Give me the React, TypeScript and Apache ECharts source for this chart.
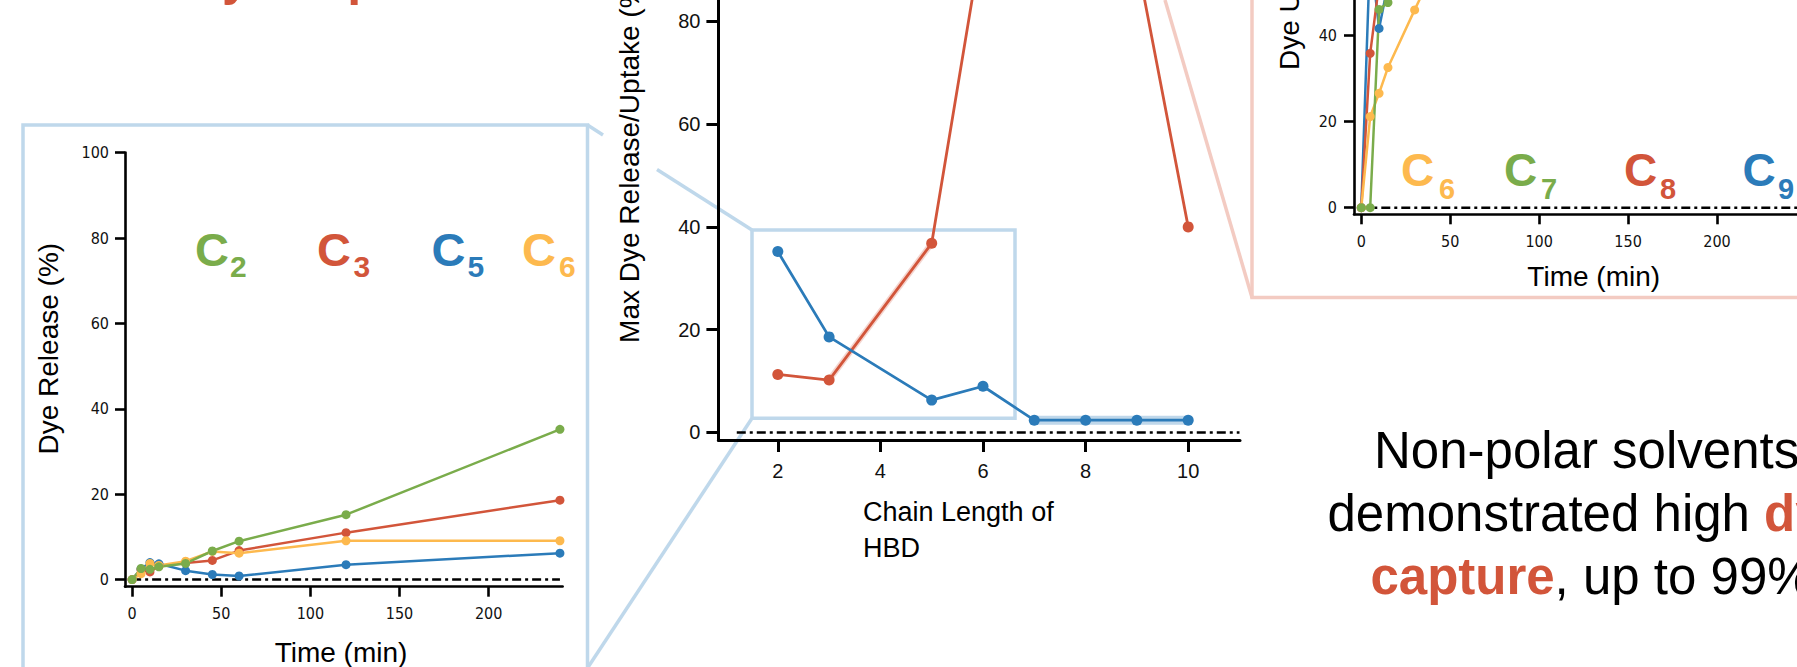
import React, { useEffect, useRef } from "react";
import * as echarts from "echarts";

// ---------- data ----------
const leftTimes = [0, 5, 10, 15, 30, 45, 60, 120, 240];
const releaseC2 = [0, 2.6, 2.4, 3.0, 3.8, 6.7, 9.0, 15.2, 35.2];
const releaseC3 = [0, 2.3, 1.8, 3.2, 3.9, 4.5, 6.8, 11.0, 18.6];
const releaseC5 = [0, 2.5, 4.0, 3.7, 2.1, 1.2, 0.85, 3.5, 6.2];
const releaseC6 = [0, 1.4, 3.8, 3.3, 4.3, 6.6, 6.2, 9.1, 9.1];

const chainLengths = [2, 3, 5, 6, 7, 8, 9, 10];
const maxRelease = [35.2, 18.6, 6.3, 9.0, 2.4, 2.4, 2.4, 2.4];
const maxUptake = [11.3, 10.2, 36.8, 97, 99, 98, 92, 40];

const rightTimes = [0, 5, 10, 15, 30, 45, 60, 120, 240];
const uptakeC6 = [0, 21.2, 26.6, 32.6, 46.0, 59, 68, 80, 90];
const uptakeC7 = [0, 0, 46.1, 47.7, 60, 70, 80, 90, 95];
const uptakeC8 = [0, 35.9, 52, 75, 90, 95, 97, 98, 99];
const uptakeC9 = [0, 60, 41.7, 52, 70, 80, 85, 90, 95];

const timeTicks = [0, 50, 100, 150, 200];
const percentTicks = [0, 20, 40, 60, 80, 100];
const chainTicks = [2, 4, 6, 8, 10];
const zeroLeft = [0, 240];
const zeroMiddle = [1.2, 11];
const zeroRight = [0, 245];

// ---------- styles ----------
const GREEN = "#7aac4b";
const RED = "#d2553a";
const BLUE = "#2b7bb9";
const ORANGE = "#fdb94e";
const LIGHTBLUE = "#bfd8eb";
const PINK = "#f3cbc2";
const FONT = "'Liberation Sans', Arial, sans-serif";
const TICKFONT = "'DejaVu Sans Condensed', 'DejaVu Sans', sans-serif";

const zip = (xs: number[], ys: number[]) => xs.map((x, i) => [x, ys[i]]);

function makeAxis(
  gridIndex: number,
  min: number,
  max: number,
  ticks: number[],
  opts: { font: string; size: number; margin: number; width: number; tickLen: number }
) {
  const shown = ticks.filter((t) => t >= min && t <= max);
  return {
    type: "value",
    gridIndex,
    min,
    max,
    axisLine: { show: true, onZero: false, lineStyle: { color: "#000", width: opts.width } },
    axisTick: {
      show: true,
      length: opts.tickLen,
      customValues: shown,
      lineStyle: { color: "#000", width: opts.width },
    },
    axisLabel: {
      customValues: shown,
      color: "#111",
      fontSize: opts.size,
      fontFamily: opts.font,
      margin: opts.margin,
    },
    splitLine: { show: false },
  };
}

function lineSeries(
  name: string,
  xi: number,
  data: number[][],
  color: string,
  width: number,
  symbolSize: number
) {
  return {
    name,
    type: "line",
    xAxisIndex: xi,
    yAxisIndex: xi,
    data,
    color,
    symbol: "circle",
    symbolSize,
    showSymbol: true,
    clip: true,
    lineStyle: { color, width },
    itemStyle: { color },
    z: 3,
  };
}

function zeroSeries(xi: number, ext: number[]) {
  return {
    type: "line",
    xAxisIndex: xi,
    yAxisIndex: xi,
    data: ext.map((x) => [x, 0]),
    symbol: "none",
    lineStyle: { color: "#000", width: 2.5, type: [9, 4, 3, 4] },
    z: 2,
  };
}

function bandSeries(xi: number, data: number[][], color: string, width: number) {
  return {
    type: "line",
    xAxisIndex: xi,
    yAxisIndex: xi,
    data,
    symbol: "none",
    lineStyle: { color, width },
    z: 2,
  };
}

function cLabel(x: number, y: number, sub: string, subX: number, subY: number, color: string, big: number, small: number) {
  return [
    {
      type: "text",
      x,
      y,
      style: { text: "C", fill: color, fontSize: big, fontWeight: "bold", fontFamily: FONT, align: "left", verticalAlign: "middle" },
    },
    {
      type: "text",
      x: subX,
      y: subY,
      style: { text: sub, fill: color, fontSize: small, fontWeight: "bold", fontFamily: FONT, align: "left", verticalAlign: "middle" },
    },
  ];
}

function text(x: number, y: number, t: string, size: number, extra: any = {}, rotation = 0) {
  return {
    type: "text",
    x,
    y,
    rotation,
    style: {
      text: t,
      fill: "#000",
      fontSize: size,
      fontFamily: FONT,
      align: "center",
      verticalAlign: "middle",
      ...extra,
    },
  };
}

export default function App() {
  const ref = useRef<HTMLDivElement>(null);
  useEffect(() => {
    document.body.style.margin = "0";
    if (!ref.current) return;
    const chart = echarts.init(ref.current, null, { renderer: "svg" });
    const sideAxis = { font: TICKFONT, size: 16, width: 2.6, tickLen: 10 };
    const midAxis = { font: FONT, size: 20, width: 3, tickLen: 12 };

    const line = { stroke: LIGHTBLUE, lineWidth: 3.5 };
    const pinkLine = { stroke: PINK, lineWidth: 3.5 };

    const graphic: any[] = [
      { type: "rect", silent: true, shape: { x: 23, y: 125, width: 564.5, height: 700 }, style: { fill: "none", ...line } },
      { type: "rect", silent: true, shape: { x: 752, y: 230, width: 263, height: 188.3 }, style: { fill: "none", ...line } },
      { type: "line", silent: true, shape: { x1: 587.5, y1: 125, x2: 603, y2: 135 }, style: line },
      { type: "line", silent: true, shape: { x1: 657, y1: 169.6, x2: 752, y2: 230 }, style: line },
      { type: "line", silent: true, shape: { x1: 752, y1: 418.3, x2: 587.5, y2: 668 }, style: line },
      { type: "rect", silent: true, shape: { x: 1252, y: -60, width: 700, height: 357.5 }, style: { fill: "none", ...pinkLine } },
      { type: "line", silent: true, shape: { x1: 1165, y1: 0, x2: 1252, y2: 297.5 }, style: pinkLine },

      // top cropped red title descenders
      text(191.5, -22.5, "dye capture", 50, { fill: RED, fontWeight: "bold", align: "left" }),

      // left chart texts
      text(48, 348.7, "Dye Release (%)", 28, {}, Math.PI / 2),
      text(341, 652.5, "Time (min)", 28),
      ...cLabel(195, 249, "2", 230, 266.7, GREEN, 47, 30),
      ...cLabel(317, 249, "3", 353.5, 266.7, RED, 47, 30),
      ...cLabel(431.5, 249, "5", 467.5, 266.7, BLUE, 47, 30),
      ...cLabel(522, 249, "6", 559, 266.7, ORANGE, 47, 30),

      // middle chart texts
      text(629, 158.5, "Max Dye Release/Uptake (%)", 28, {}, Math.PI / 2),
      text(863, 512, "Chain Length of", 27, { align: "left" }),
      text(863, 548, "HBD", 27, { align: "left" }),

      // right chart texts
      text(1289, -28.8, "Dye Uptake (%)", 28, {}, Math.PI / 2),
      text(1593.7, 276.7, "Time (min)", 28),
      ...cLabel(1401, 170, "6", 1439, 188.7, ORANGE, 46, 29),
      ...cLabel(1504, 170, "7", 1541, 188.7, GREEN, 46, 29),
      ...cLabel(1624, 170, "8", 1660, 188.7, RED, 46, 29),
      ...cLabel(1742.5, 170, "9", 1778, 188.7, BLUE, 46, 29),

      // bottom right paragraph
      text(1374, 450, "Non-polar solvents", 51, { align: "left" }),
      {
        type: "text",
        x: 1327.5,
        y: 513,
        style: {
          text: "{n|demonstrated high }{r|dye}",
          align: "left",
          verticalAlign: "middle",
          fontSize: 51,
          fontFamily: FONT,
          rich: {
            n: { fill: "#000", color: "#000", fontSize: 51, fontFamily: FONT },
            r: { fill: RED, color: RED, fontSize: 51, fontWeight: "bold", fontFamily: FONT },
          },
        },
      },
      {
        type: "text",
        x: 1370.4,
        y: 576.7,
        style: {
          text: "{r|capture}{n|, up to 99%}",
          align: "left",
          verticalAlign: "middle",
          fontSize: 51,
          fontFamily: FONT,
          rich: {
            n: { fill: "#000", color: "#000", fontSize: 51, fontFamily: FONT },
            r: { fill: RED, color: RED, fontSize: 51, fontWeight: "bold", fontFamily: FONT },
          },
        },
      },
    ];

    chart.setOption({
      animation: false,
      backgroundColor: "#fff",
      grid: [
        { left: 125, top: 152.6, width: 437.6, height: 434.1 },
        { left: 718.4, top: 0, width: 521.6, height: 440 },
        { left: 1354, top: 0, width: 467.8, height: 214.3 },
      ],
      xAxis: [
        makeAxis(0, -4, 241.5, timeTicks, { ...sideAxis, margin: 19 }),
        makeAxis(1, 0.842, 11.01, chainTicks, { ...midAxis, margin: 21 }),
        makeAxis(2, -4.1, 245, timeTicks, { ...sideAxis, margin: 19 }),
      ],
      yAxis: [
        makeAxis(0, -1.66, 100, percentTicks, { ...sideAxis, margin: 16 }),
        makeAxis(1, -1.46, 84.14, percentTicks, { ...midAxis, margin: 18 }),
        makeAxis(2, -1.53, 48.3, percentTicks, { ...sideAxis, margin: 17 }),
      ],
      graphic,
      series: [
        zeroSeries(0, zeroLeft),
        lineSeries("C5", 0, zip(leftTimes, releaseC5), BLUE, 2.5, 9),
        lineSeries("C3", 0, zip(leftTimes, releaseC3), RED, 2.5, 9),
        lineSeries("C6", 0, zip(leftTimes, releaseC6), ORANGE, 2.5, 9),
        lineSeries("C2", 0, zip(leftTimes, releaseC2), GREEN, 2.5, 9),

        zeroSeries(1, zeroMiddle),
        bandSeries(1, zip(chainLengths, maxRelease).slice(4), "rgba(43,123,185,0.3)", 9),
        bandSeries(1, zip(chainLengths, maxUptake).slice(1, 3), "rgba(210,85,58,0.25)", 6),
        lineSeries("Max Dye Uptake", 1, zip(chainLengths, maxUptake), RED, 2.8, 11),
        lineSeries("Max Dye Release", 1, zip(chainLengths, maxRelease), BLUE, 2.8, 11),

        zeroSeries(2, zeroRight),
        lineSeries("C9", 2, zip(rightTimes, uptakeC9), BLUE, 2.5, 9),
        lineSeries("C8", 2, zip(rightTimes, uptakeC8), RED, 2.5, 9),
        lineSeries("C6", 2, zip(rightTimes, uptakeC6), ORANGE, 2.5, 9),
        lineSeries("C7", 2, zip(rightTimes, uptakeC7), GREEN, 2.5, 9),
      ],
    });
    return () => chart.dispose();
  }, []);

  return (
    <div
      ref={ref}
      style={{ position: "absolute", left: 0, top: 0, width: 1797, height: 667, background: "#fff" }}
    />
  );
}
